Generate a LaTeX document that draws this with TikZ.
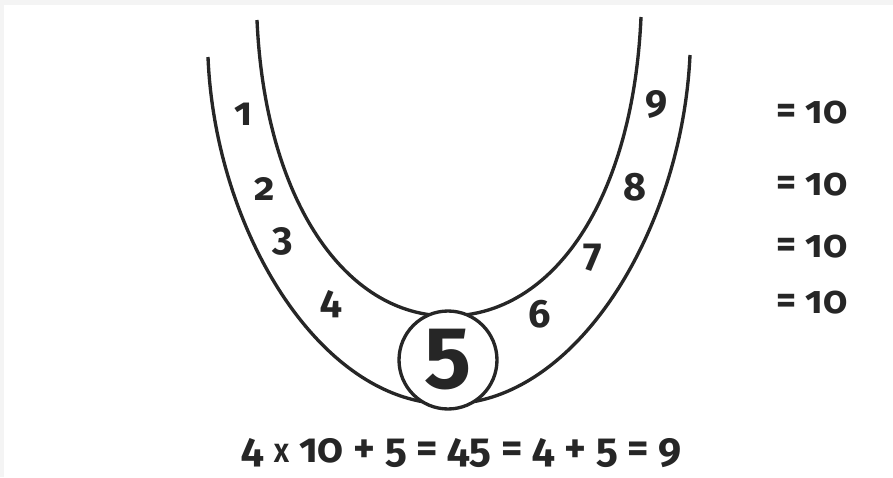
\documentclass[tikz,border=0pt]{standalone}
\usepackage{fontspec}
\setmainfont{Fira Sans}[Numbers=OldStyle]
\usepackage{xcolor}
\usetikzlibrary{positioning}
\definecolor{ink}{HTML}{262626}

\begin{document}
\begin{tikzpicture}[x=0.02cm, y=-0.02cm,
  band/.style={draw=ink, line width=1.9pt},
  num/.style={font=\fontsize{22.5}{26}\selectfont\bfseries, text=ink, inner sep=0pt, anchor=base},
  sumlbl/.style={num, anchor=base west, font=\fontsize{22}{26}\selectfont\bfseries},
  hub/.style={circle, draw=ink, fill=white, line width=1.9pt, minimum size=1.96cm, inner sep=0pt,
              font=\fontsize{50}{54}\selectfont\bfseries\addfontfeatures{Numbers=Lining}, text=ink},
]
\useasboundingbox (0,0) rectangle (893,477);
% frame
\fill[gray!9] (0,0) rectangle (893,5);
\fill[gray!9] (0,0) rectangle (4,477);
% Band
\draw[band] (257,20) .. controls (265,200) and (345,316) .. (448,316)
                     .. controls (553,316) and (633,200) .. (641,17);
\draw[band] (208,57) .. controls (215,230) and (320,404) .. (448,404)
                     .. controls (576,404) and (682,230) .. (690,55);
% Nodes
\node[hub] (five) at (448,360) {5};
\foreach \n/\x/\y in {1/243/125, 2/265/200, 3/283/250, 4/331/313,
                      6/540/327, 7/593/266, 8/635/200, 9/657/113}
  \node[num] (d\n) at (\x,\y) {\n};
\foreach \y [count=\i] in {123,195,257,313}
  \node[sumlbl] (sum\i) at (776,\y) {= 10};
\node[num, font=\fontsize{23.5}{27}\selectfont\bfseries] (total) at (462,462)
  {4 {\fontsize{15}{17}\selectfont X} 10 + 5 = 45 = 4 + 5 = 9};
\end{tikzpicture}
\end{document}
